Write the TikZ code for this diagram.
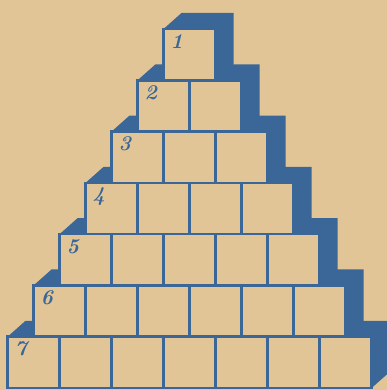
\documentclass[tikz,border=0pt]{standalone}
\usepackage{tikz}
\usetikzlibrary{calc}
\usepackage{xcolor}
\definecolor{paper}{RGB}{226,197,151}
\definecolor{inkblue}{RGB}{58,102,152}

\tikzset{
  cell/.style={fill=paper, minimum width=52pt, minimum height=51.3pt,
    inner sep=0pt, outer sep=0pt},
  edge/.style={draw=inkblue, line width=2.6pt},
  num/.style={text=inkblue, font=\fontsize{21}{21}\selectfont\bfseries\itshape,
    anchor=north west, inner sep=0pt},
  shade/.style={fill=inkblue}
}

\begin{document}
\begin{tikzpicture}[x=1pt, y=1pt]
  \useasboundingbox (0,0) rectangle (387,390);
  \fill[paper] (0,0) rectangle (387,390);
  % cells of the pyramid, row r has r cells
  \foreach \r in {1,...,7} {
    \foreach \c in {1,...,\r} {
      \path (163.5-26*\r+52*\c, 386.65-51.3*\r) coordinate (p-\r-\c);
    }
  }
  % shadows first
  \foreach \r in {1,...,7} {
    \fill[shade] (p-\r-1) ++(-26,25.65) coordinate (nw\r)
      -- ++(18,16) -- ($(p-\r-\r)+(44,41.65)$) -- ($(p-\r-\r)+(44,-9.65)$)
      -- ($(p-\r-\r)+(26,-25.65)$) -- cycle;
  }
  \foreach \r in {1,...,7} {
    \foreach \c in {1,...,\r} {
      \node[cell] (c-\r-\c) at (p-\r-\c) {};
    }
  }
  % borders on top
  \foreach \r in {1,...,7} {
    \foreach \c in {1,...,\r} {
      \draw[edge] (c-\r-\c.north west) rectangle (c-\r-\c.south east);
    }
    \node[num] (n\r) at ($(c-\r-1.north west)+(7,-5)$) {\r};
  }
\end{tikzpicture}
\end{document}
